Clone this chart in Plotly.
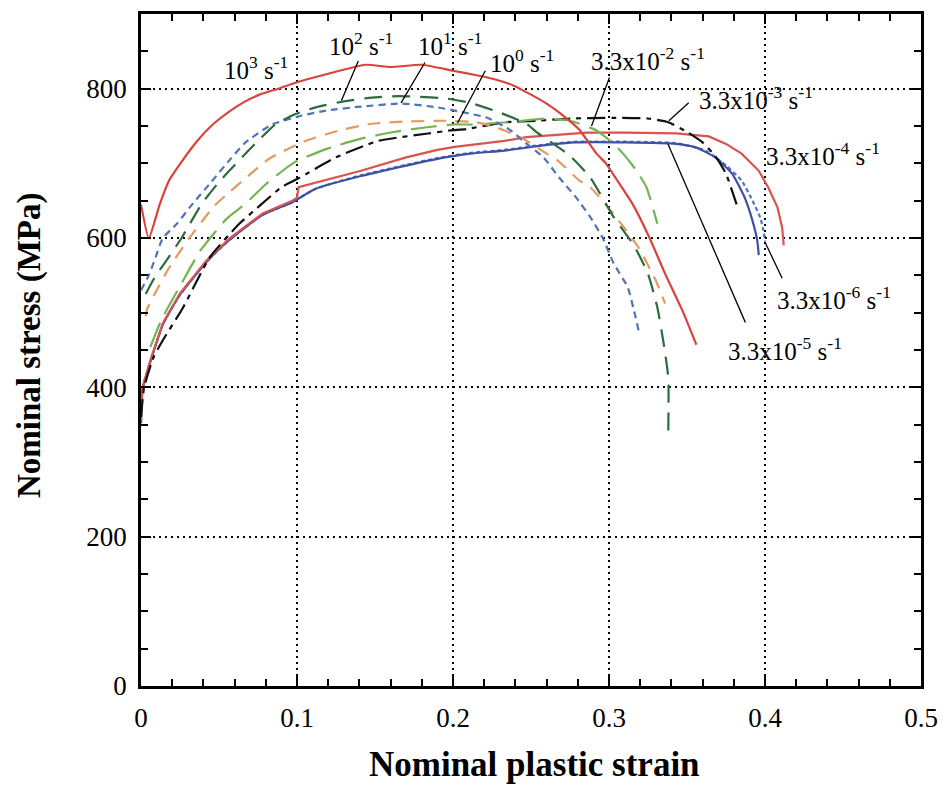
import plotly.graph_objects as go

# ---------------- data ----------------
x_1e3 = [0, 0.005, 0.012, 0.018, 0.027, 0.036, 0.046, 0.057, 0.066, 0.076, 0.088, 0.099, 0.12, 0.144, 0.16, 0.18,
         0.2, 0.215, 0.226, 0.239, 0.25, 0.26, 0.27, 0.281, 0.292, 0.298, 0.305, 0.315, 0.326, 0.336, 0.347, 0.356]
y_1e3 = [645, 600, 645, 677, 705, 730, 752, 770, 782, 792, 800, 808, 820, 832, 829, 832,
         824, 818, 813, 804, 792, 780, 765, 745, 713, 700, 678, 646, 600, 552, 503, 457]

x_1e2 = [0.003, 0.009, 0.017, 0.026, 0.039, 0.05, 0.062, 0.074, 0.086, 0.099, 0.112, 0.13, 0.148, 0.165, 0.179, 0.195,
         0.211, 0.23, 0.247, 0.254, 0.263, 0.275, 0.288, 0.303, 0.316, 0.325, 0.331, 0.335, 0.338, 0.338]
y_1e2 = [525, 548, 572, 600, 646, 675, 702, 728, 752, 766, 775, 783, 788, 790, 789, 787,
         781, 768, 753, 741, 728, 710, 681, 628, 590, 552, 507, 459, 413, 340]

x_1e1 = [0.0, 0.005, 0.009, 0.014, 0.023, 0.032, 0.045, 0.057, 0.067, 0.084, 0.103, 0.12, 0.141, 0.167, 0.19,
         0.205, 0.222, 0.237, 0.245, 0.258, 0.268, 0.279, 0.288, 0.296, 0.303, 0.312, 0.316, 0.319]
y_1e1 = [530, 550, 572, 600, 619, 643, 675, 705, 728, 752, 764, 771, 776, 780, 775,
         769, 761, 744, 730, 708, 681, 654, 628, 600, 566, 534, 503, 476]

x_1e0 = [0.003, 0.004, 0.01, 0.018, 0.031, 0.047, 0.057, 0.067, 0.082, 0.103, 0.127, 0.148, 0.169, 0.195, 0.215,
         0.228, 0.245, 0.26, 0.267, 0.281, 0.288, 0.301, 0.31, 0.319, 0.33, 0.336]
y_1e0 = [495, 505, 530, 560, 600, 643, 662, 680, 706, 728, 744, 753, 756, 757, 755,
         748, 733, 713, 704, 677, 668, 637, 613, 587, 543, 512]

x_33e2 = [0.006, 0.013, 0.027, 0.038, 0.055, 0.067, 0.08, 0.098, 0.12, 0.141, 0.162, 0.182, 0.2, 0.214, 0.235,
          0.26, 0.275, 0.292, 0.303, 0.309, 0.317, 0.324, 0.331]
y_33e2 = [454, 490, 543, 583, 626, 646, 672, 701, 720, 733, 742, 748, 752, 752, 755,
          760, 757, 744, 726, 713, 692, 668, 619]

x_33e3 = [0.0, 0.002, 0.008, 0.014, 0.027, 0.044, 0.063, 0.076, 0.09, 0.101, 0.125, 0.152, 0.184, 0.198, 0.209,
          0.233, 0.254, 0.275, 0.303, 0.325, 0.338, 0.35, 0.36, 0.368, 0.375, 0.381, 0.383]
y_33e3 = [360, 400, 440, 463, 507, 574, 619, 643, 668, 680, 708, 730, 740, 744, 746,
          755, 757, 760, 761, 760, 755, 742, 728, 710, 686, 650, 638]

x_33e4 = [0.0, 0.001, 0.006, 0.014, 0.025, 0.042, 0.057, 0.078, 0.097, 0.1, 0.101, 0.112, 0.141, 0.17, 0.19,
          0.201, 0.233, 0.247, 0.26, 0.286, 0.311, 0.343, 0.364, 0.375, 0.385, 0.396, 0.402, 0.408, 0.411, 0.412]
y_33e4 = [355, 400, 436, 486, 526, 570, 600, 633, 650, 654, 668, 674, 690, 708, 718,
          722, 730, 735, 737, 741, 741, 740, 736, 726, 713, 690, 668, 641, 614, 590]

x_33e5 = [0.0, 0.001, 0.006, 0.014, 0.025, 0.042, 0.057, 0.078, 0.097, 0.112, 0.141, 0.17, 0.19, 0.211, 0.233,
          0.258, 0.279, 0.311, 0.343, 0.356, 0.368, 0.379, 0.387, 0.392, 0.395, 0.396]
y_33e5 = [352, 398, 434, 484, 524, 568, 598, 631, 648, 666, 683, 697, 706, 713, 717,
          724, 728, 728, 726, 721, 708, 686, 654, 623, 597, 577]

x_33e6 = [0.0, 0.001, 0.006, 0.014, 0.025, 0.042, 0.057, 0.078, 0.097, 0.112, 0.141, 0.17, 0.19, 0.211, 0.233,
          0.258, 0.279, 0.311, 0.343, 0.362, 0.375, 0.385, 0.392, 0.397, 0.399, 0.4]
y_33e6 = [352, 398, 434, 484, 524, 568, 598, 631, 648, 666, 684, 698, 707, 714, 718,
          725, 729, 729, 727, 717, 697, 677, 650, 627, 610, 595]

rate_labels = ["10<sup>3</sup> s<sup>-1</sup>", "10<sup>2</sup> s<sup>-1</sup>", "10<sup>1</sup> s<sup>-1</sup>",
               "10<sup>0</sup> s<sup>-1</sup>", "3.3x10<sup>-2</sup> s<sup>-1</sup>",
               "3.3x10<sup>-3</sup> s<sup>-1</sup>", "3.3x10<sup>-4</sup> s<sup>-1</sup>",
               "3.3x10<sup>-5</sup> s<sup>-1</sup>", "3.3x10<sup>-6</sup> s<sup>-1</sup>"]

x_ticks = [0, 0.1, 0.2, 0.3, 0.4, 0.5]
x_ticktext = ["0", "0.1", "0.2", "0.3", "0.4", "0.5"]
y_ticks = [0, 200, 400, 600, 800]
y_ticktext = ["0", "200", "400", "600", "800"]

# ---------------- figure ----------------
FONT = "Liberation Serif, Times New Roman, serif"
fig = go.Figure()

series = [
    (x_33e6, y_33e6, "#4f74b8", "4px,3px", rate_labels[8], "spline"),
    (x_33e5, y_33e5, "#3f4fa3", "solid", rate_labels[7], "spline"),
    (x_33e4, y_33e4, "#d9534f", "solid", rate_labels[6], "linear"),
    (x_33e3, y_33e3, "#111111", "18px,6px,5px,6px", rate_labels[5], "spline"),
    (x_33e2, y_33e2, "#74b455", "26px,10px", rate_labels[4], "spline"),
    (x_1e0, y_1e0, "#e59a5e", "13px,9px", rate_labels[3], "spline"),
    (x_1e1, y_1e1, "#4f74b8", "7px,5px", rate_labels[2], "spline"),
    (x_1e2, y_1e2, "#2e6b40", "18px,10px", rate_labels[1], "spline"),
    (x_1e3, y_1e3, "#d9433b", "solid", rate_labels[0], "spline"),
]
for xs, ys, col, dash, name, shp in series:
    fig.add_trace(go.Scatter(x=xs, y=ys, mode="lines", name=name,
                             line=dict(color=col, width=2.2, dash=dash, shape=shp, smoothing=0.5),
                             showlegend=False))

# rate labels (text positions) and pointer lines
label_pos = [(0.0738, 828), (0.141, 860), (0.198, 860), (0.244, 837), (0.325, 840),
             (0.394, 787), (0.437, 713), (0.413, 452), (0.444, 519)]
for txt, (lx, ly) in zip(rate_labels, label_pos):
    fig.add_annotation(x=lx, y=ly, xref="x", yref="y", text=txt, showarrow=False,
                       font=dict(family=FONT, size=25, color="black"), xanchor="center", yanchor="middle")

pointers = [
    ((0.1393, 837), (0.1285, 784)),
    ((0.182, 835), (0.1667, 781)),
    ((0.2207, 824), (0.2029, 754)),
    ((0.3003, 815), (0.2888, 750)),
    ((0.3511, 781), (0.3384, 757)),
    ((0.3874, 487), (0.3378, 726)),
    ((0.411, 546), (0.4001, 594)),
]
for (x0, y0), (x1, y1) in pointers:
    fig.add_shape(type="line", x0=x0, y0=y0, x1=x1, y1=y1, xref="x", yref="y",
                  line=dict(color="black", width=1.3))

# axis titles
fig.add_annotation(x=0.504, y=-0.117, xref="paper", yref="paper", text="<b>Nominal plastic strain</b>",
                   showarrow=False, font=dict(family=FONT, size=35, color="black"),
                   xanchor="center", yanchor="middle")
fig.add_annotation(x=-0.143, y=0.508, xref="paper", yref="paper", text="<b>Nominal stress (MPa)</b>",
                   showarrow=False, textangle=-90, font=dict(family=FONT, size=33, color="black"),
                   xanchor="center", yanchor="middle")

axis_common = dict(showline=True, linecolor="black", linewidth=2.5, mirror="ticks",
                   ticks="inside", ticklen=10, tickwidth=2, tickcolor="black",
                   showgrid=True, gridcolor="black", gridwidth=1.6, griddash="2px,4px",
                   zeroline=False, tickfont=dict(family=FONT, size=27, color="black"))

fig.update_xaxes(range=[0, 0.5], tickvals=x_ticks, ticktext=x_ticktext, ticklabelstandoff=6,
                 minor=dict(dtick=0.02, ticks="inside", ticklen=7, tickwidth=1.5, tickcolor="black",
                            showgrid=False),
                 **axis_common)
fig.update_yaxes(range=[0, 900], tickvals=y_ticks, ticktext=y_ticktext, ticklabelstandoff=6,
                 minor=dict(dtick=50, ticks="inside", ticklen=7, tickwidth=1.5, tickcolor="black",
                            showgrid=False),
                 **axis_common)

fig.update_layout(width=949, height=786, margin=dict(l=141, r=22, t=11, b=100),
                  plot_bgcolor="white", paper_bgcolor="white", font=dict(family=FONT))

fig.write_html("out.html")
